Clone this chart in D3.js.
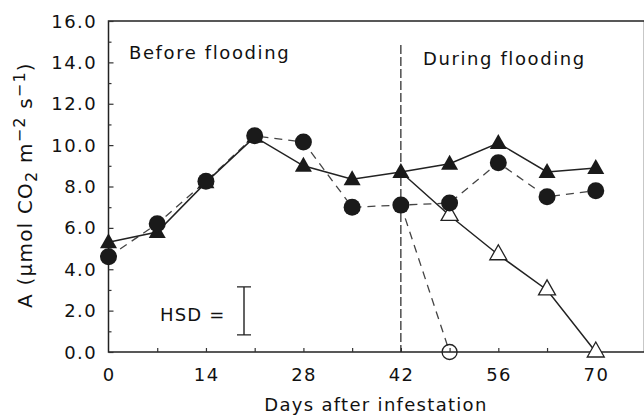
<!DOCTYPE html>
<html>
<head>
<meta charset="utf-8">
<script src="https://cdn.jsdelivr.net/npm/d3@7"></script>
<style>
body { margin: 0; background: #fff; }
text { font-family: "DejaVu Sans", sans-serif; fill: #111; }
</style>
</head>
<body>
<div id="chart"></div>
<script>
// days after infestation
var days = [0, 7, 14, 21, 28, 35, 42, 49, 56, 63, 70];
// control, filled triangles (solid line)
var ctrlTri = [5.3, 5.8, 8.2, 10.4, 9.0, 8.35, 8.7, 9.1, 10.1, 8.7, 8.9];
// control, filled circles (dashed line)
var ctrlCirc = [4.6, 6.2, 8.25, 10.45, 10.15, 7.0, 7.1, 7.2, 9.15, 7.5, 7.8];
// flooded, open triangles (solid line, starts from day 42)
var floodTriDays = [42, 49, 56, 63, 70];
var floodTri = [8.7, 6.6, 4.7, 3.0, 0.0];
// flooded, open circles (dashed line, starts from day 42)
var floodCircDays = [42, 49];
var floodCirc = [7.1, 0.0];
var hsd = [0.83, 3.15];
var xTicks = [0, 14, 28, 42, 56, 70];
var yTicks = [0, 2, 4, 6, 8, 10, 12, 14, 16];
var floodDay = 42;

var width = 644, height = 417;
var svg = d3.select("#chart").append("svg")
	.attr("width", width)
	.attr("height", height);

var x = d3.scaleLinear().domain([0, 77]).range([108.5, 644.5]);
var y = d3.scaleLinear().domain([0, 16]).range([352, 21]);

// frame
svg.append("path")
	.attr("d", "M" + x(77) + "," + y(16) + "H" + x(0) + "V" + y(0) + "H" + x(77) + "V" + y(16))
	.attr("fill", "none")
	.attr("stroke", "#222")
	.attr("stroke-width", 1.5);

// y ticks (inward)
var yAxis = d3.axisRight(y).tickValues(yTicks).tickSize(5).tickFormat("");
svg.append("g").attr("transform", "translate(" + x(0) + ",0)").call(yAxis)
	.call(function(g){ g.select(".domain").remove(); });
svg.append("g").attr("transform", "translate(" + x(0) + ",0)")
	.call(d3.axisRight(y).tickValues(d3.range(1, 16, 2)).tickSize(3).tickFormat(""))
	.call(function(g){ g.select(".domain").remove(); });
svg.selectAll(".tick line").attr("stroke", "#333").attr("stroke-width", 1.2);

svg.selectAll(".ylab")
	.data(yTicks)
	.enter()
	.append("text")
	.attr("x", 97)
	.attr("y", function(d){ return y(d) + 6.5; })
	.attr("text-anchor", "end")
	.style("font-size", "18px")
	.style("letter-spacing", "1.4px")
	.text(function(d){ return d.toFixed(1); });

// x ticks (inward)
svg.append("g").attr("transform", "translate(0," + y(0) + ")")
	.call(d3.axisTop(x).tickValues(d3.range(7, 77, 7)).tickSize(4).tickFormat(""))
	.call(function(g){ g.select(".domain").remove(); })
	.selectAll("line").attr("stroke", "#333").attr("stroke-width", 1.2);

svg.selectAll(".xlab")
	.data(xTicks)
	.enter()
	.append("text")
	.attr("x", function(d){ return x(d) + 0.7; })
	.attr("y", 381)
	.attr("text-anchor", "middle")
	.style("font-size", "18px")
	.style("letter-spacing", "1.4px")
	.text(function(d){ return d; });

// axis titles
svg.append("text")
	.attr("x", 376)
	.attr("y", 411)
	.attr("text-anchor", "middle")
	.style("font-size", "18px")
	.style("letter-spacing", "1.3px")
	.text("Days after infestation");

var yt = svg.append("text")
	.attr("transform", "translate(32,185) rotate(-90)")
	.attr("text-anchor", "middle")
	.style("font-size", "20px")
	.style("letter-spacing", "1.2px");
yt.append("tspan").text("A (\u03bcmol CO");
yt.append("tspan").attr("baseline-shift", "-30%").style("font-size", "16px").text("2");
yt.append("tspan").text(" m");
yt.append("tspan").attr("baseline-shift", "45%").style("font-size", "16px").text("\u22122");
yt.append("tspan").text(" s");
yt.append("tspan").attr("baseline-shift", "45%").style("font-size", "16px").text("\u22121");
yt.append("tspan").text(")");

// section labels
svg.append("text")
	.attr("x", 129).attr("y", 59)
	.style("font-size", "18px")
	.style("letter-spacing", "1.6px")
	.text("Before flooding");
svg.append("text")
	.attr("x", 423).attr("y", 65)
	.style("font-size", "18px")
	.style("letter-spacing", "1.6px")
	.text("During flooding");

// flooding start line
svg.append("line")
	.attr("x1", x(floodDay)).attr("x2", x(floodDay))
	.attr("y1", 45).attr("y2", y(0))
	.attr("stroke", "#222")
	.attr("stroke-width", 1.2)
	.attr("stroke-dasharray", "9,3");

// HSD bar
svg.append("text")
	.attr("x", 160).attr("y", 321)
	.style("font-size", "18px")
	.style("letter-spacing", "1.2px")
	.text("HSD =");
var hx = 244;
svg.append("path")
	.attr("d", "M" + (hx - 7) + "," + y(hsd[1]) + "H" + (hx + 7) +
		"M" + hx + "," + y(hsd[1]) + "V" + y(hsd[0]) +
		"M" + (hx - 7) + "," + y(hsd[0]) + "H" + (hx + 7))
	.attr("stroke", "#222")
	.attr("fill", "none")
	.attr("stroke-width", 1.4);

var line = d3.line()
	.x(function(d){ return x(d[0]); })
	.y(function(d){ return y(d[1]); });

function pairs(xs, ys){
	return xs.map(function(d, i){ return [d, ys[i]]; });
}

var sTri = pairs(days, ctrlTri);
var sCirc = pairs(days, ctrlCirc);
var sFTri = pairs(floodTriDays, floodTri);
var sFCirc = pairs(floodCircDays, floodCirc);

svg.append("path").attr("d", line(sFCirc))
	.attr("fill", "none").attr("stroke", "#444")
	.attr("stroke-width", 1.3).attr("stroke-dasharray", "8,6");
svg.append("path").attr("d", line(sCirc))
	.attr("fill", "none").attr("stroke", "#444")
	.attr("stroke-width", 1.3).attr("stroke-dasharray", "8,6");
svg.append("path").attr("d", line(sFTri))
	.attr("fill", "none").attr("stroke", "#222")
	.attr("stroke-width", 1.5);
svg.append("path").attr("d", line(sTri))
	.attr("fill", "none").attr("stroke", "#222")
	.attr("stroke-width", 1.5);

var triPath = "M0,-9L8.5,6L-8.5,6Z";

// open markers
svg.selectAll(".otri")
	.data(sFTri.slice(1))
	.enter()
	.append("path")
	.attr("d", triPath)
	.attr("transform", function(d){ return "translate(" + x(d[0]) + "," + (y(d[1]) - 1) + ")"; })
	.attr("fill", "#fff")
	.attr("stroke", "#222")
	.attr("stroke-width", 1.3);

svg.selectAll(".ocirc")
	.data(sFCirc.slice(1))
	.enter()
	.append("circle")
	.attr("cx", function(d){ return x(d[0]); })
	.attr("cy", function(d){ return y(d[1]); })
	.attr("r", 7.5)
	.attr("fill", "none")
	.attr("stroke", "#222")
	.attr("stroke-width", 1.3);

// filled markers
svg.selectAll(".ftri")
	.data(sTri)
	.enter()
	.append("path")
	.attr("d", triPath)
	.attr("transform", function(d){ return "translate(" + x(d[0]) + "," + y(d[1]) + ")"; })
	.attr("fill", "#1a1a1a");

svg.selectAll(".fcirc")
	.data(sCirc)
	.enter()
	.append("circle")
	.attr("cx", function(d){ return x(d[0]); })
	.attr("cy", function(d){ return y(d[1]); })
	.attr("r", 8.5)
	.attr("fill", "#1a1a1a");
</script>
</body>
</html>
